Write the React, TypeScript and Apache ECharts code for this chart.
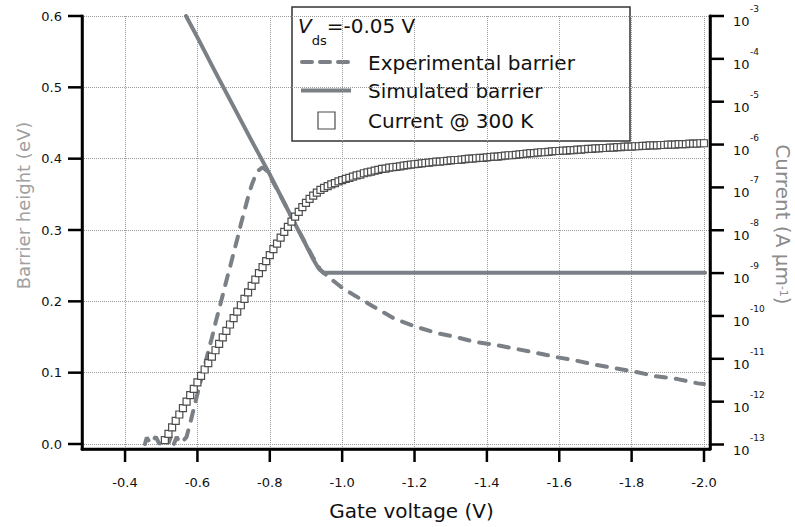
import React, { useEffect, useRef } from 'react';
import * as echarts from 'echarts';

const FONT = "'DejaVu Sans', sans-serif";
const LINE_GRAY = '#7a8085';
const MARK_GRAY = '#4d4d4d';

// Axis ticks
const xTicks = [-0.4, -0.6, -0.8, -1.0, -1.2, -1.4, -1.6, -1.8, -2.0];
const barrierTicks = [0, 0.1, 0.2, 0.3, 0.4, 0.5, 0.6];
const currentExpTicks = [-13, -12, -11, -10, -9, -8, -7, -6, -5, -4, -3];

// Experimental barrier (gate voltage V, barrier height eV)
const expVg = [
  -0.455, -0.46, -0.47, -0.485, -0.495, -0.51, -0.52, -0.527, -0.535, -0.543, -0.55, -0.56, -0.57,
  -0.58, -0.59, -0.6, -0.61, -0.62, -0.63, -0.64, -0.65, -0.66, -0.67, -0.68, -0.69, -0.7,
  -0.71, -0.72, -0.73, -0.74, -0.75, -0.76, -0.77, -0.78, -0.79, -0.8, -0.82, -0.84, -0.86,
  -0.88, -0.9, -0.92, -0.94, -0.967, -0.985, -1.0, -1.032, -1.087, -1.143, -1.203, -1.258,
  -1.313, -1.369, -1.424, -1.484, -1.535, -1.59, -1.646, -1.701, -1.756, -1.812, -1.867,
  -1.927, -1.983, -2.0,
];
const expBarrier = [
  0.0, 0.009, 0.001, 0.01, 0.0, 0.008, 0.001, 0.011, 0.0, 0.01, 0.002, 0.004, 0.01,
  0.029, 0.05, 0.07, 0.09, 0.109, 0.13, 0.149, 0.17, 0.189, 0.209, 0.229, 0.248, 0.268,
  0.287, 0.308, 0.327, 0.346, 0.363, 0.376, 0.384, 0.388, 0.384, 0.376, 0.357, 0.338, 0.318,
  0.299, 0.28, 0.261, 0.244, 0.232, 0.225, 0.219, 0.209, 0.1925, 0.176, 0.1645, 0.156,
  0.15, 0.143, 0.139, 0.133, 0.128, 0.122, 0.117, 0.111, 0.106, 0.101, 0.095,
  0.091, 0.085, 0.084,
];

// Simulated barrier
const simVg = [-0.5685, -0.6, -0.65, -0.7, -0.75, -0.8, -0.85, -0.9, -0.92, -0.935, -0.948, -1.0, -1.2, -1.4, -1.6, -1.8, -2.003];
const simBarrier = [0.6, 0.57, 0.521, 0.473, 0.425, 0.378, 0.328, 0.279, 0.259, 0.246, 0.24, 0.24, 0.24, 0.24, 0.24, 0.24, 0.24];

// Current @ 300 K (gate voltage V, log10 of current in A/um)
const currentVg = [
  -0.51, -0.52, -0.53, -0.54, -0.55, -0.56, -0.57, -0.58, -0.59, -0.6,
  -0.61, -0.62, -0.63, -0.64, -0.65, -0.66, -0.67, -0.68, -0.69, -0.7,
  -0.71, -0.72, -0.73, -0.74, -0.75, -0.76, -0.77, -0.78, -0.79, -0.8,
  -0.81, -0.82, -0.83, -0.84, -0.85, -0.86, -0.87, -0.88, -0.89, -0.9,
  -0.91, -0.92, -0.93, -0.94, -0.95, -0.96, -0.97, -0.98, -0.99, -1.0,
  -1.01, -1.02, -1.03, -1.04, -1.05, -1.06, -1.07, -1.08, -1.09, -1.1,
  -1.11, -1.12, -1.13, -1.14, -1.15, -1.16, -1.17, -1.18, -1.19, -1.2,
  -1.21, -1.22, -1.23, -1.24, -1.25, -1.26, -1.27, -1.28, -1.29, -1.3,
  -1.31, -1.32, -1.33, -1.34, -1.35, -1.36, -1.37, -1.38, -1.39, -1.4,
  -1.41, -1.42, -1.43, -1.44, -1.45, -1.46, -1.47, -1.48, -1.49, -1.5,
  -1.51, -1.52, -1.53, -1.54, -1.55, -1.56, -1.57, -1.58, -1.59, -1.6,
  -1.61, -1.62, -1.63, -1.64, -1.65, -1.66, -1.67, -1.68, -1.69, -1.7,
  -1.71, -1.72, -1.73, -1.74, -1.75, -1.76, -1.77, -1.78, -1.79, -1.8,
  -1.81, -1.82, -1.83, -1.84, -1.85, -1.86, -1.87, -1.88, -1.89, -1.9,
  -1.91, -1.92, -1.93, -1.94, -1.95, -1.96, -1.97, -1.98, -1.99, -2.0,
];
const currentLog10 = [
  -12.9, -12.75, -12.6, -12.45, -12.3, -12.15, -12.0, -11.85, -11.7, -11.55,
  -11.4, -11.25, -11.1, -10.95, -10.8, -10.65, -10.5, -10.35, -10.2, -10.05,
  -9.9, -9.75, -9.6, -9.45, -9.3, -9.15, -9.0, -8.86, -8.72, -8.58,
  -8.44, -8.31, -8.17, -8.04, -7.92, -7.8, -7.68, -7.57, -7.46, -7.36,
  -7.27, -7.19, -7.12, -7.06, -7.01, -6.97, -6.93, -6.9, -6.86, -6.83,
  -6.8, -6.78, -6.75, -6.72, -6.7, -6.67, -6.65, -6.63, -6.61, -6.59,
  -6.57, -6.56, -6.54, -6.53, -6.52, -6.51, -6.49, -6.48, -6.47, -6.46,
  -6.45, -6.44, -6.43, -6.42, -6.41, -6.4, -6.4, -6.39, -6.38, -6.37,
  -6.36, -6.36, -6.35, -6.34, -6.33, -6.33, -6.32, -6.31, -6.31, -6.3,
  -6.29, -6.28, -6.28, -6.27, -6.26, -6.25, -6.25, -6.24, -6.23, -6.22,
  -6.21, -6.2, -6.2, -6.19, -6.18, -6.18, -6.17, -6.16, -6.15, -6.15,
  -6.14, -6.14, -6.13, -6.13, -6.12, -6.12, -6.11, -6.1, -6.1, -6.09,
  -6.09, -6.08, -6.08, -6.07, -6.07, -6.06, -6.06, -6.05, -6.05, -6.05,
  -6.04, -6.04, -6.03, -6.03, -6.02, -6.02, -6.02, -6.01, -6.01, -6.0,
  -6.0, -6.0, -5.99, -5.99, -5.99, -5.98, -5.98, -5.98, -5.97, -5.97,
];

const legendNames = ['Experimental barrier', 'Simulated barrier', 'Current @ 300 K'];

const GRID = { left: 82, right: 85, top: 16, bottom: 78 };
const W = 795;
const H = 527;
const X_RANGE = { min: -2.0166, max: -0.281 };
const L_RANGE = { min: -0.007, max: 0.6 };
const R_RANGE = { min: -13.105, max: -3 };
const T = 2.5;

function zip(a: number[], b: number[]) {
  return a.map((v, i) => [v, b[i]]);
}

function mkAxisLine() {
  return { show: true, onZero: false, lineStyle: { color: '#000', width: 2.5, type: 'solid' } };
}
function mkGrid(showMax: boolean) {
  return {
    show: true,
    showMinLine: false,
    showMaxLine: showMax,
    lineStyle: { color: '#9a9a9a', width: 1, type: 'dotted' },
  };
}

function blackRect(x: number, y: number, w: number, h: number) {
  return { type: 'rect', shape: { x, y, width: w, height: h }, style: { fill: '#000' } };
}

function legendGroup() {
  return {
    id: 'legend',
    type: 'group',
    z: 100,
    children: [
      {
        type: 'rect',
        shape: { x: 292, y: 7, width: 338, height: 134 },
        style: { fill: '#fff', stroke: '#333', lineWidth: 1.5 },
      },
      {
        type: 'text',
        x: 298,
        y: 16,
        style: {
          text: '{v|V}{sub|ds}{t|=-0.05 V}',
          fontFamily: FONT,
          verticalAlign: 'top',
          rich: {
            v: { fontSize: 20, lineHeight: 24, fontStyle: 'italic', verticalAlign: 'top', fill: '#111', fontFamily: FONT },
            sub: { fontSize: 13, lineHeight: 13, padding: [18, 0, 0, 0], verticalAlign: 'top', fill: '#111', fontFamily: FONT },
            t: { fontSize: 20, lineHeight: 24, verticalAlign: 'top', fill: '#111', fontFamily: FONT },
          },
        },
      },
      {
        type: 'line',
        shape: { x1: 302, y1: 62, x2: 348, y2: 62 },
        style: { stroke: LINE_GRAY, lineWidth: 4, lineDash: [10, 8], lineCap: 'round' },
      },
      {
        type: 'line',
        shape: { x1: 301, y1: 90.5, x2: 351, y2: 90.5 },
        style: { stroke: LINE_GRAY, lineWidth: 4 },
      },
      {
        type: 'rect',
        shape: { x: 318, y: 112, width: 17, height: 17 },
        style: { fill: '#fff', stroke: MARK_GRAY, lineWidth: 1.2 },
      },
      {
        type: 'text',
        x: 368,
        y: 63,
        style: { text: legendNames[0], fontSize: 20, fontFamily: FONT, fill: '#111', verticalAlign: 'middle' },
      },
      {
        type: 'text',
        x: 368,
        y: 91,
        style: { text: legendNames[1], fontSize: 20, fontFamily: FONT, fill: '#111', verticalAlign: 'middle' },
      },
      {
        type: 'text',
        x: 368,
        y: 121,
        style: { text: legendNames[2], fontSize: 20, fontFamily: FONT, fill: '#111', verticalAlign: 'middle' },
      },
    ],
  };
}

export default function App() {
  const ref = useRef<HTMLDivElement>(null);

  useEffect(() => {
    const chart = echarts.init(ref.current!, null, { renderer: 'svg' });

    const option: any = {
      animation: false,
      backgroundColor: '#fff',
      textStyle: { fontFamily: FONT },
      grid: { ...GRID, containLabel: false, outerBoundsMode: 'none' },
      xAxis: {
        type: 'value',
        inverse: true,
        min: X_RANGE.min,
        max: X_RANGE.max,
        minInterval: 0.2,
        maxInterval: 0.2,
        name: 'Gate voltage (V)',
        nameLocation: 'middle',
        nameGap: 52,
        nameMoveOverlap: false,
        nameTextStyle: { fontSize: 20, color: '#111', fontFamily: FONT, padding: [0, 0, 0, 31] },
        axisLine: mkAxisLine(),
        axisTick: { show: false },
        axisLabel: {
          customValues: xTicks,
          margin: 27,
          fontSize: 13,
          color: '#111',
          fontFamily: FONT,
          formatter: (v: number) => v.toFixed(1),
        },
        splitLine: mkGrid(false),
      },
      yAxis: [
        {
          type: 'value',
          position: 'left',
          min: L_RANGE.min,
          max: L_RANGE.max,
          minInterval: 0.1,
          maxInterval: 0.1,
          name: 'Barrier height (eV)',
          nameLocation: 'middle',
          nameGap: 50,
          nameMoveOverlap: false,
          nameTextStyle: { fontSize: 18, color: '#a0a0a0', fontFamily: FONT, padding: [0, 0, 0, 54] },
          axisLine: mkAxisLine(),
          axisTick: { show: false },
          axisLabel: {
            customValues: barrierTicks,
            margin: 20,
            fontSize: 13,
            color: '#111',
            fontFamily: FONT,
            formatter: (v: number) => v.toFixed(1),
          },
          splitLine: mkGrid(true),
        },
        {
          type: 'value',
          position: 'right',
          min: R_RANGE.min,
          max: R_RANGE.max,
          minInterval: 1,
          maxInterval: 1,
          name: 'Current (A µm{sup|-1})',
          nameLocation: 'middle',
          nameRotate: -90,
          nameGap: 62,
          nameMoveOverlap: false,
          nameTextStyle: {
            fontSize: 20,
            lineHeight: 22,
            color: '#8c8c8c',
            fontFamily: FONT,
            padding: [0, 16, 0, 0],
            rich: {
              sup: { fontSize: 11, lineHeight: 22, verticalAlign: 'middle', color: '#8c8c8c', fontFamily: FONT },
            },
          },
          axisLine: mkAxisLine(),
          axisTick: { show: false },
          axisLabel: {
            customValues: currentExpTicks,
            margin: 23,
            color: '#111',
            fontFamily: FONT,
            formatter: (v: number) => `{s|${Math.round(v)}}\n{b|10}`,
            rich: {
              s: { fontSize: 9, lineHeight: 11, padding: [0, 0, 0, 17], color: '#111', fontFamily: FONT },
              b: { fontSize: 13, lineHeight: 14, color: '#111', fontFamily: FONT },
            },
          },
          splitLine: { show: false },
        },
      ],
      series: [
        {
          name: legendNames[0],
          type: 'line',
          xAxisIndex: 0,
          yAxisIndex: 0,
          data: zip(expVg, expBarrier),
          symbol: 'none',
          lineStyle: { color: LINE_GRAY, width: 4, type: [10, 10], cap: 'round' },
          z: 3,
        },
        {
          name: legendNames[1],
          type: 'line',
          xAxisIndex: 0,
          yAxisIndex: 0,
          data: zip(simVg, simBarrier),
          symbol: 'none',
          lineStyle: { color: LINE_GRAY, width: 4, cap: 'round', join: 'round' },
          z: 3,
        },
        {
          name: legendNames[2],
          type: 'scatter',
          xAxisIndex: 0,
          yAxisIndex: 1,
          data: zip(currentVg, currentLog10),
          symbol: 'rect',
          symbolSize: 7,
          itemStyle: { color: '#ffffff', borderColor: MARK_GRAY, borderWidth: 1.2, opacity: 1 },
          z: 5,
        },
        // Plot frame (left, bottom and right axis lines)
        {
          name: 'frame',
          type: 'custom',
          xAxisIndex: 0,
          yAxisIndex: 0,
          silent: true,
          clip: false,
          z: 10,
          data: [[-1, 0.3]],
          renderItem: (params: any) => {
            const cs = params.coordSys;
            const h = T / 2;
            return {
              type: 'group',
              children: [
                blackRect(cs.x - h, cs.y - h, T, cs.height + T),
                blackRect(cs.x - h, cs.y + cs.height - h, cs.width + T, T),
                blackRect(cs.x + cs.width - h, cs.y - h, T, cs.height + T),
              ],
            };
          },
        },
        // Bottom axis ticks
        {
          name: 'xTicks',
          type: 'custom',
          xAxisIndex: 0,
          yAxisIndex: 0,
          silent: true,
          clip: false,
          z: 10,
          data: xTicks.map((v) => [v, 0.3]),
          renderItem: (params: any, api: any) => {
            const cs = params.coordSys;
            const p = api.coord([api.value(0), api.value(1)]);
            return blackRect(p[0] - T / 2, cs.y + cs.height, T, 13);
          },
        },
        // Left axis ticks
        {
          name: 'leftTicks',
          type: 'custom',
          xAxisIndex: 0,
          yAxisIndex: 0,
          silent: true,
          clip: false,
          z: 10,
          data: barrierTicks.map((v) => [-1, v]),
          renderItem: (params: any, api: any) => {
            const cs = params.coordSys;
            const p = api.coord([api.value(0), api.value(1)]);
            return blackRect(cs.x - 14, p[1] - T / 2, 14, T);
          },
        },
        // Right axis ticks
        {
          name: 'rightTicks',
          type: 'custom',
          xAxisIndex: 0,
          yAxisIndex: 1,
          silent: true,
          clip: false,
          z: 10,
          data: currentExpTicks.map((v) => [-1, v]),
          renderItem: (params: any, api: any) => {
            const cs = params.coordSys;
            const p = api.coord([api.value(0), api.value(1)]);
            return blackRect(cs.x + cs.width, p[1] - T / 2, 14, T);
          },
        },
      ],
      graphic: [legendGroup()],
    };

    chart.setOption(option);
    return () => chart.dispose();
  }, []);

  return (
    <div
      ref={ref}
      style={{ position: 'fixed', left: 0, top: 0, width: W, height: H, background: '#fff' }}
    />
  );
}
